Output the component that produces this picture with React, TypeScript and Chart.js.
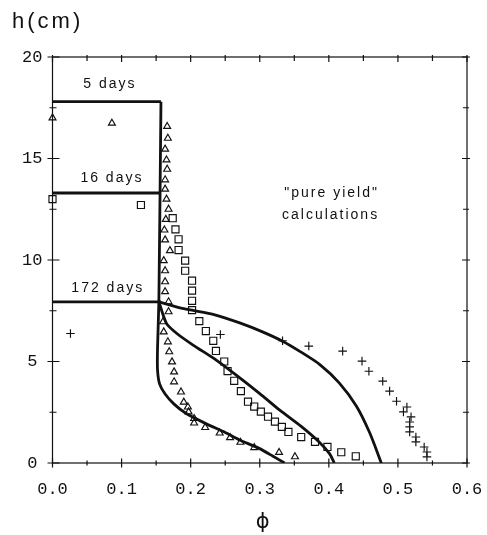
import React, { useEffect, useRef } from 'react';
import { Chart, registerables } from 'chart.js';

Chart.register(...registerables);

// ---- measured data (5 days = triangles, 16 days = squares, 172 days = pluses)
const triPhi = [0.0, 0.086, 0.166, 0.167, 0.163, 0.165, 0.166, 0.163, 0.163, 0.165, 0.168, 0.164, 0.162, 0.163, 0.17, 0.161, 0.163, 0.163, 0.163, 0.168, 0.168, 0.16, 0.161, 0.167, 0.169, 0.173, 0.176, 0.176, 0.186, 0.19, 0.196, 0.197, 0.205, 0.205, 0.221, 0.242, 0.257, 0.272, 0.292, 0.328, 0.351];
const triH = [17.0, 16.74, 16.58, 16.0, 15.46, 14.93, 14.47, 13.95, 13.49, 13.0, 12.5, 12.0, 11.48, 10.99, 10.46, 9.97, 9.47, 8.93, 8.44, 7.94, 7.45, 6.96, 6.46, 5.97, 5.48, 4.98, 4.49, 4.0, 3.5, 3.0, 2.76, 2.52, 2.19, 1.97, 1.75, 1.48, 1.25, 1.02, 0.76, 0.52, 0.31];

const sqPhi = [0.0, 0.128, 0.174, 0.178, 0.1825, 0.1825, 0.192, 0.192, 0.202, 0.202, 0.202, 0.202, 0.2125, 0.222, 0.2327, 0.2366, 0.2486, 0.2534, 0.263, 0.2727, 0.283, 0.292, 0.3016, 0.312, 0.322, 0.332, 0.3415, 0.36, 0.38, 0.398, 0.418, 0.439];
const sqH = [13.0, 12.71, 12.06, 11.51, 11.02, 10.49, 9.97, 9.47, 8.98, 8.49, 7.99, 7.53, 6.99, 6.5, 6.02, 5.52, 5.0, 4.53, 4.05, 3.54, 3.02, 2.78, 2.53, 2.28, 2.04, 1.78, 1.53, 1.28, 1.04, 0.79, 0.53, 0.33];

const plusPhi = [0.026, 0.243, 0.333, 0.371, 0.42, 0.448, 0.458, 0.478, 0.488, 0.498, 0.513, 0.508, 0.519, 0.517, 0.517, 0.517, 0.526, 0.526, 0.538, 0.542, 0.542];
const plusH = [6.38, 6.33, 6.02, 5.76, 5.51, 5.02, 4.52, 4.03, 3.54, 3.04, 2.76, 2.52, 2.27, 2.02, 1.78, 1.53, 1.28, 1.04, 0.79, 0.54, 0.3];

// ---- "pure yield" calculated profiles
const plateauPhi = [0.0, 0.157];
const plateau5H = [17.8, 17.8];
const plateau16H = [13.3, 13.3];
const plateau172H = [7.94, 7.94];

const calc5Phi = [0.157, 0.154, 0.152, 0.152, 0.155, 0.163, 0.176, 0.193, 0.222, 0.25, 0.27, 0.299, 0.318, 0.336];
const calc5H = [17.8, 8.0, 5.6, 4.6, 3.9, 3.4, 2.9, 2.45, 1.94, 1.5, 1.15, 0.72, 0.36, 0];

const calc16Phi = [0.154, 0.165, 0.18, 0.2035, 0.237, 0.266, 0.3, 0.329, 0.36, 0.387, 0.401, 0.408];
const calc16H = [7.94, 6.88, 6.38, 5.81, 5.07, 4.33, 3.42, 2.6, 1.8, 1.0, 0.46, 0];

const calc172Phi = [0.154, 0.19, 0.235, 0.271, 0.304, 0.333, 0.358, 0.387, 0.415, 0.44, 0.459, 0.476];
const calc172H = [7.94, 7.6, 7.3, 6.9, 6.46, 6.0, 5.5, 4.85, 3.95, 2.8, 1.5, 0];

// ---- annotations
const noteTexts = ['5 days', '16 days', '172 days', '"pure yield"', 'calculations'];
const notePhi = [0.083, 0.086, 0.080, 0.404, 0.4025];
const noteH = [18.68, 14.02, 8.59, 13.28, 12.22];

const yTitle = 'h(cm)';
const xTitle = 'ϕ';

const pts = (xs: number[], ys: number[]) => xs.map((x, i) => ({ x, y: ys[i] }));

const isMajorX = (v: number) => Math.abs(v * 10 - Math.round(v * 10)) < 1e-6;
const isMajorY = (v: number) => Math.abs(v / 5 - Math.round(v / 5)) < 1e-6;

const INK = '#111';

const framePlugin = {
  id: 'frameTicksNotes',
  afterDraw(chart: any) {
    const { ctx, chartArea: a, scales } = chart;
    const xs = scales.x;
    const ys = scales.y;
    ctx.save();
    ctx.strokeStyle = INK;
    ctx.lineWidth = 1.2;
    ctx.strokeRect(a.left, a.top, a.right - a.left, a.bottom - a.top);
    ctx.beginPath();
    xs.ticks.forEach((t: any) => {
      const px = xs.getPixelForValue(t.value);
      const m = isMajorX(t.value);
      ctx.moveTo(px, a.bottom + (m ? 4.5 : 2.5));
      ctx.lineTo(px, a.bottom - (m ? 4.5 : 2.5));
      ctx.moveTo(px, a.top - 2);
      ctx.lineTo(px, a.top + (m ? 5 : 4));
    });
    ys.ticks.forEach((t: any) => {
      const py = ys.getPixelForValue(t.value);
      const m = isMajorY(t.value);
      ctx.moveTo(a.left - (m ? 5 : 3), py);
      ctx.lineTo(a.left + (m ? 7 : 4), py);
      ctx.moveTo(a.right - (m ? 5 : 4), py);
      ctx.lineTo(a.right + (m ? 3 : 2), py);
    });
    ctx.stroke();

    ctx.fillStyle = INK;
    ctx.textAlign = 'center';
    ctx.textBaseline = 'middle';
    ctx.font = '14px "Liberation Sans", Arial, sans-serif';
    (ctx as any).letterSpacing = '2px';
    noteTexts.forEach((txt, i) => {
      ctx.fillText(txt, xs.getPixelForValue(notePhi[i]), ys.getPixelForValue(noteH[i]));
    });

    ctx.font = '22px "Liberation Sans", Arial, sans-serif';
    (ctx as any).letterSpacing = '3px';
    ctx.textAlign = 'left';
    ctx.textBaseline = 'alphabetic';
    ctx.fillText(yTitle, a.left - 40.5, a.top - 29);

    (ctx as any).letterSpacing = '0px';
    ctx.textAlign = 'center';
    ctx.textBaseline = 'middle';
    ctx.font = '21px "DejaVu Sans", sans-serif';
    ctx.fillText(xTitle, (a.left + a.right) / 2 + 3, a.bottom + 60);
    ctx.restore();
  },
};

export default function App() {
  const ref = useRef<HTMLCanvasElement | null>(null);

  useEffect(() => {
    if (!ref.current) return;
    const lineStyle = (tension: number) => ({
      showLine: true,
      borderColor: INK,
      borderWidth: 2.8,
      pointRadius: 0,
      fill: false,
      tension,
    });
    const markStyle = (style: string, r: number) => ({
      showLine: false,
      pointStyle: style,
      pointRadius: r,
      borderColor: INK,
      backgroundColor: 'rgba(0,0,0,0)',
      pointBorderWidth: 1.15,
      clip: false,
    });
    const chart = new Chart(ref.current, {
      type: 'scatter',
      data: {
        datasets: [
          { label: '5 days calc', data: pts(plateauPhi, plateau5H), ...lineStyle(0) },
          { label: '16 days calc', data: pts(plateauPhi, plateau16H), ...lineStyle(0) },
          { label: '172 days calc', data: pts(plateauPhi, plateau172H), ...lineStyle(0) },
          { label: '5 days profile', data: pts(calc5Phi, calc5H), ...lineStyle(0.2) },
          { label: '16 days profile', data: pts(calc16Phi, calc16H), ...lineStyle(0.25) },
          { label: '172 days profile', data: pts(calc172Phi, calc172H), ...lineStyle(0.25) },
          { label: '5 days', data: pts(triPhi, triH), ...markStyle('triangle', 4) },
          { label: '16 days', data: pts(sqPhi, sqH), ...markStyle('rect', 5) },
          { label: '172 days', data: pts(plusPhi, plusH), ...markStyle('cross', 4.3) },
        ] as any,
      },
      options: {
        animation: false,
        responsive: false,
        layout: { padding: { top: 57, right: 20, left: 0, bottom: 0 } },
        plugins: { legend: { display: false }, tooltip: { enabled: false } },
        scales: {
          x: {
            type: 'linear',
            min: 0,
            max: 0.6,
            grid: { display: false, drawTicks: false },
            border: { display: false },
            ticks: {
              stepSize: 0.05,
              autoSkip: false,
              maxRotation: 0,
              padding: 16,
              color: INK,
              font: { family: '"Liberation Mono", "Courier New", monospace', size: 17 },
              callback: (v: any) => (isMajorX(Number(v)) ? Number(v).toFixed(1) : ''),
            },
            afterFit: (s: any) => {
              s.height = 72;
              s.paddingLeft = 0;
              s.paddingRight = 0;
            },
          },
          y: {
            type: 'linear',
            min: 0,
            max: 20,
            grid: { display: false, drawTicks: false },
            border: { display: false },
            ticks: {
              stepSize: 2.5,
              autoSkip: false,
              padding: 10,
              crossAlign: 'center',
              color: INK,
              font: { family: '"Liberation Mono", "Courier New", monospace', size: 17 },
              callback: (v: any) => (isMajorY(Number(v)) ? String(Math.round(Number(v))) : ''),
            },
            afterFit: (s: any) => {
              s.width = 52.5;
              s.paddingTop = 0;
              s.paddingBottom = 0;
            },
          },
        },
      } as any,
      plugins: [framePlugin],
    });
    return () => chart.destroy();
  }, []);

  return (
    <div style={{ position: 'absolute', left: 0, top: 0, width: 487, height: 535, background: '#fff' }}>
      <canvas ref={ref} width={487} height={535} />
    </div>
  );
}
